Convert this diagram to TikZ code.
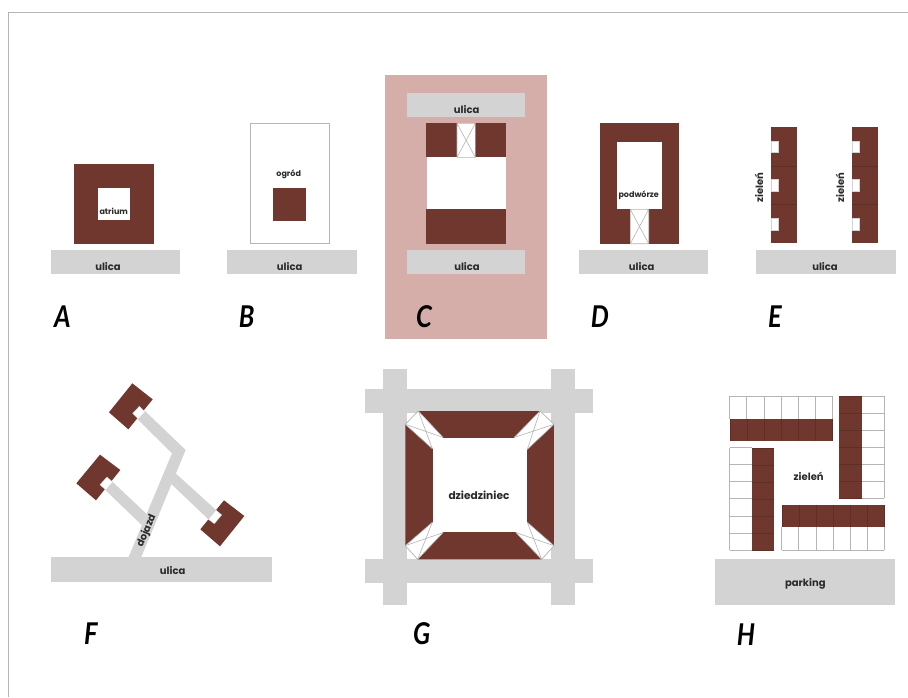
\documentclass[tikz,border=0pt]{standalone}
\usepackage{fontspec}
\setmainfont{Poppins}
\newfontfamily\letterfont{Lato}
\definecolor{brn}{HTML}{6F372E}
\definecolor{gry}{HTML}{D3D3D3}
\definecolor{pnk}{HTML}{D5AEA9}
\definecolor{lin}{HTML}{B5B5B5}
\definecolor{txt}{HTML}{2A2A2A}
\tikzset{
  road/.style={fill=gry},
  house/.style={fill=brn},
  yard/.style={fill=white},
  notch/.style={fill=white,draw=lin!60!white,line width=0.3pt},
  thinline/.style={draw=lin,line width=0.6pt},
  cellgrid/.style={draw=lin,line width=0.8pt},
  cellsep/.style={draw=brn!85!black,line width=0.4pt},
  lab/.style={inner sep=0pt,text=txt,font=\fontsize{10}{12}\selectfont\bfseries},
  smalllab/.style={lab,font=\fontsize{8}{9}\selectfont\bfseries},
  biglab/.style={lab,font=\fontsize{10.6}{12}\selectfont\bfseries},
  letter/.style={inner sep=0pt,text=black,xscale=0.85,font=\fontsize{30}{32}\selectfont\letterfont\bfseries\itshape}
}
\newcommand{\crossbox}[4]{%
  \fill[yard] (#1,#2) rectangle (#3,#4);
  \draw[thinline] (#1,#2) rectangle (#3,#4) (#1,#2) -- (#3,#4) (#3,#2) -- (#1,#4);}
\begin{document}
\begin{tikzpicture}[x=1pt,y=-1pt]
\useasboundingbox (0,0) rectangle (908,697);
\fill[white] (0,0) rectangle (908,697);
\draw[lin,line width=0.8pt] (8,697) -- (8,12) -- (908,12);
% A
\fill[road] (51,250) rectangle (180.3,274.3);
\fill[house] (74.3,164.3) rectangle (154,243.7);
\fill[yard] (98,187.7) rectangle (130.3,220.3);
\node[smalllab] (atrium) at (113.7,211.7) {atrium};
\node[lab] (ulicaA) at (108,267) {ulica};
\node[letter] (letA) at (62.5,317) {A};
% B
\fill[road] (227.3,250) rectangle (357,274.3);
\draw[lin,line width=0.9pt,fill=white] (250.3,123.3) rectangle (329.7,243.7);
\fill[house] (273,187.5) rectangle (306.3,220.5);
\node[smalllab] (ogrod) at (288.7,174) {ogród};
\node[lab] (ulicaB) at (289.7,267) {ulica};
\node[letter] (letB) at (246.7,317) {B};
% C
\fill[pnk] (384.7,74.7) rectangle (547,338.7);
\fill[road] (407,92.7) rectangle (525.3,116.7);
\fill[house] (426.3,123.3) rectangle (506,157.3);
\fill[yard] (426.7,157.3) rectangle (505.5,209.3);
\fill[house] (426.3,209.3) rectangle (506,243.7);
\crossbox{457}{123.3}{475.3}{157.3}
\fill[road] (407,250.3) rectangle (525.3,274);
\node[lab] (ulicaC1) at (466.7,109.3) {ulica};
\node[lab] (ulicaC2) at (467,266.7) {ulica};
\node[letter] (letC) at (424,316.7) {C};
% D
\fill[road] (578.7,250.3) rectangle (708,274);
\fill[house] (599.7,123.3) rectangle (679.3,243.7);
\fill[yard] (616.7,142) rectangle (662,209.3);
\crossbox{630.3}{209.3}{648.7}{243.7}
\node[smalllab] (podworze) at (638.7,195.7) {podwórze};
\node[lab] (ulicaD) at (641.7,266.7) {ulica};
\node[letter] (letD) at (600,317) {D};
% E
\fill[road] (756,250.3) rectangle (895.7,274.3);
\foreach \x in {770.7,852.3}{
  \fill[house] (\x,126.7) rectangle ++(26,116.6);
  \draw[cellsep] (\x,165.7) -- ++(26,0) (\x,204.3) -- ++(26,0);
  \filldraw[notch] (\x,140.7) rectangle ++(7.2,11.7);
  \filldraw[notch] (\x,179) rectangle ++(7.2,12);
  \filldraw[notch] (\x,217.7) rectangle ++(7.2,12);
}
\node[lab,rotate=90] (zielenE1) at (759,187.7) {zieleń};
\node[lab,rotate=90] (zielenE2) at (840,187.7) {zieleń};
\node[lab] (ulicaE) at (825,266.7) {ulica};
\node[letter] (letE) at (775,317) {E};
% F
\begin{scope}[x=0.33333pt,y=-0.33333pt,shift={(120,1080)}]
\fill[road] (34,592) rectangle (696,665);
\fill[road] (265,593) -- (396,280) -- (293,178) -- (315,153) -- (437,270) -- (303,593) -- cycle;
\fill[road] (407,340) -- (528,450) -- (505,478) -- (394,372) -- cycle;
\fill[road] (217,365) -- (320,462) -- (305,495) -- (197,391) -- cycle;
\fill[house] (277,70) -- (338,118) -- (265,208) -- (207,157) -- cycle;
\filldraw[notch] (298,139) -- (315,155) -- (295,177) -- (278,160) -- cycle;
\fill[house] (180,284) -- (241,330) -- (168,421) -- (109,370) -- cycle;
\filldraw[notch] (201,351) -- (218,366) -- (197,390) -- (180,374) -- cycle;
\fill[house] (552,421) -- (613,468) -- (540,559) -- (481,508) -- cycle;
\filldraw[notch] (528,450) -- (545,465) -- (523,491) -- (505,478) -- cycle;
\node[lab,rotate=67] (dojazd) at (320,513) {dojazd};
\node[lab] (ulicaF) at (398,632) {ulica};
\node[letter] (letF) at (153,822) {F};
\end{scope}
% G
\begin{scope}[x=0.33333pt,y=-0.33333pt,shift={(1065,1080)}]
\fill[road] (30,88) rectangle (713,160);
\fill[road] (30,598) rectangle (713,668);
\fill[road] (84,28) rectangle (157,735);
\fill[road] (588,28) rectangle (660,735);
\fill[house] (190,153) -- (555,153) -- (597,193) -- (597,557) -- (560,598) -- (188,598) -- (151,557) -- (151,193) -- cycle;
\filldraw[yard,draw=lin,line width=0.6pt] (190,153) -- (264,232) -- (232,266) -- (151,193) -- cycle;
\draw[thinline] (190,153) -- (232,266) (151,193) -- (264,232);
\filldraw[yard,draw=lin,line width=0.6pt] (555,153) -- (597,193) -- (517,268) -- (478,232) -- cycle;
\draw[thinline] (555,153) -- (517,268) (597,193) -- (478,232);
\filldraw[yard,draw=lin,line width=0.6pt] (151,557) -- (232,487) -- (264,518) -- (188,598) -- cycle;
\draw[thinline] (151,557) -- (264,518) (232,487) -- (188,598);
\filldraw[yard,draw=lin,line width=0.6pt] (517,487) -- (597,557) -- (560,598) -- (483,518) -- cycle;
\draw[thinline] (517,487) -- (560,598) (597,557) -- (483,518);
\fill[yard] (233,235) rectangle (516,517);
\node[biglab] (dziedziniec) at (372,406) {dziedziniec};
\node[letter] (letG) at (200,822) {G};
\end{scope}
% H
\fill[house] (729.7,418.7) rectangle (832.3,441);
\foreach \i in {0,...,6} \draw[cellgrid] (729.7+17.1*\i,396) -- (729.7+17.1*\i,418.7);
\foreach \i in {0,...,6} \draw[cellsep] (729.7+17.1*\i,418.7) -- (729.7+17.1*\i,441);
\draw[cellgrid] (729.7,396) -- (832.3,396);
%
\fill[house] (839.3,396) rectangle (861.7,498.3);
\foreach \i in {0,...,6} \draw[cellgrid] (861.7,396+17.05*\i) -- (884.3,396+17.05*\i);
\foreach \i in {0,...,6} \draw[cellsep] (839.3,396+17.05*\i) -- (861.7,396+17.05*\i);
\draw[cellgrid] (884.3,396) -- (884.3,498.3);
%
\fill[house] (752,447.7) rectangle (774.3,550);
\foreach \i in {0,...,6} \draw[cellgrid] (729.7,447.7+17.05*\i) -- (752,447.7+17.05*\i);
\foreach \i in {0,...,6} \draw[cellsep] (752,447.7+17.05*\i) -- (774.3,447.7+17.05*\i);
\draw[cellgrid] (729.7,447.7) -- (729.7,550);
%
\fill[house] (781.7,505.3) rectangle (884.3,527.3);
\foreach \i in {0,...,6} \draw[cellgrid] (781.7+17.1*\i,527.3) -- (781.7+17.1*\i,550);
\foreach \i in {0,...,6} \draw[cellsep] (781.7+17.1*\i,505.3) -- (781.7+17.1*\i,527.3);
\draw[cellgrid] (781.7,550) -- (884.3,550);
\fill[road] (715,559.3) rectangle (895.3,604.7);
\node[lab] (zielenH) at (808.7,476) {zieleń};
\node[lab] (parking) at (805.3,584) {parking};
\node[letter] (letH) at (746,635) {H};
\end{tikzpicture}
\end{document}
